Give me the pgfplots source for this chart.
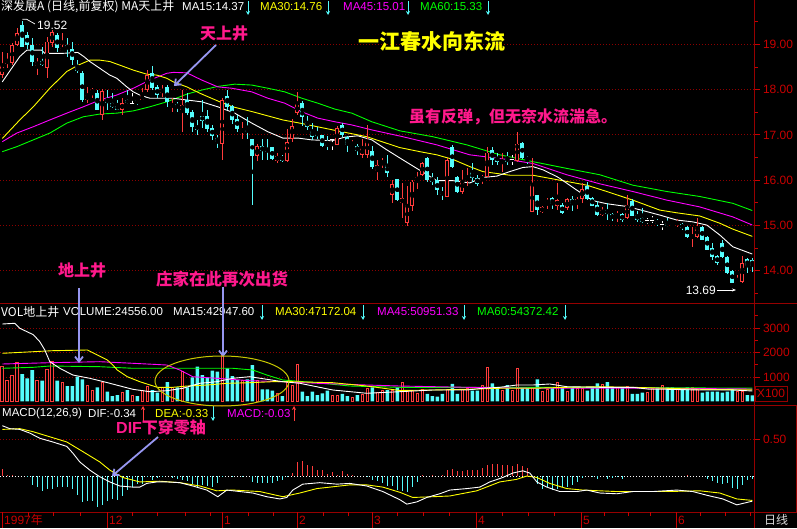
\documentclass[border=0pt]{standalone}
\usepackage{pgfplots}
\pgfplotsset{compat=1.18}
\usepackage{pgfplotstable}
\usepackage{fontspec}
\setmainfont{Liberation Sans}
\newfontfamily\cjk{Noto Sans CJK SC}
\usetikzlibrary{arrows.meta}
\definecolor{cred}{RGB}{255,60,60}
\definecolor{ccyan}{RGB}{84,252,252}
\definecolor{axred}{RGB}{200,0,0}
\definecolor{gridred}{RGB}{140,0,0}
\definecolor{framec}{RGB}{150,0,0}
\definecolor{pinkann}{RGB}{255,25,140}
\definecolor{lav}{RGB}{150,150,240}
\definecolor{cyel}{RGB}{255,255,0}
\definecolor{cmag}{RGB}{255,0,255}
\definecolor{cgrn}{RGB}{0,255,0}
\definecolor{ellc}{RGB}{200,200,0}

\pgfplotstableread{
i o h l c v
0 18.32 18.82 18.25 18.54 1420
1 18.57 18.80 18.47 18.65 877
2 18.58 19.02 18.54 18.98 1081
3 18.98 19.35 18.96 19.24 1584
4 19.43 19.52 18.95 18.95 1122
5 19.21 19.28 18.89 18.98 946
6 18.98 19.13 18.51 18.62 1285
7 18.52 18.69 18.32 18.62 877
8 18.64 18.95 18.51 18.54 849
9 18.47 19.17 18.25 19.06 1313
10 19.02 19.32 18.95 19.28 1625
11 19.21 19.24 18.84 18.91 849
12 18.86 19.24 18.84 18.91 767
13 18.98 19.13 18.73 18.91 632
14 18.89 19.06 18.54 18.65 632
15 18.51 18.65 18.36 18.40 1013
16 18.36 18.40 17.73 17.77 906
17 17.76 18.05 17.70 17.88 673
18 17.93 18.03 17.81 17.99 442
19 17.92 17.99 17.55 17.56 578
20 17.44 18.01 17.33 17.97 767
21 17.79 17.99 17.55 17.70 401
22 17.70 17.92 17.59 17.62 224
23 17.64 17.77 17.55 17.56 265
24 17.56 17.81 17.44 17.70 360
25 17.77 17.99 17.68 17.70 469
26 17.70 17.92 17.68 17.70 265
27 17.77 17.79 17.66 17.73 224
28 17.76 18.03 17.76 17.88 469
29 17.99 18.43 17.95 18.32 632
30 18.36 18.51 17.99 18.03 469
31 18.05 18.10 17.81 17.88 360
32 17.93 18.10 17.84 18.01 578
33 18.05 18.10 17.62 17.73 795
34 17.62 17.81 17.51 17.68 578
35 17.68 17.73 17.51 17.61 578
36 17.55 17.99 17.07 17.66 1217
37 17.78 17.92 17.44 17.48 578
38 17.51 17.55 17.07 17.18 986
39 17.20 17.33 17.00 17.11 1420
40 17.42 17.77 17.15 17.31 1081
41 17.42 17.55 17.07 17.12 986
42 17.15 17.22 16.89 16.98 1258
43 16.94 17.00 16.70 16.85 1217
44 16.81 17.81 16.45 17.77 1965
45 17.86 17.99 17.55 17.62 1353
46 17.64 17.66 17.25 17.33 1040
47 17.36 17.44 17.07 17.14 877
48 17.07 17.29 16.90 17.12 849
49 17.11 17.40 16.92 17.07 906
50 16.92 16.92 15.45 16.53 1489
51 16.53 16.80 16.43 16.75 877
52 16.75 16.92 16.45 16.65 496
53 16.66 16.90 16.45 16.65 496
54 16.73 16.73 16.45 16.46 442
55 16.43 16.61 16.37 16.53 333
56 16.52 16.56 16.41 16.43 224
57 16.43 17.12 16.41 16.85 795
58 16.92 17.34 16.85 17.20 673
59 17.48 17.95 17.44 17.68 1530
60 17.70 17.75 17.20 17.40 401
61 17.29 17.42 17.11 17.18 224
62 17.09 17.27 16.89 16.95 401
63 17.05 17.18 16.90 16.98 265
64 17.00 17.00 16.73 16.76 333
65 16.80 16.98 16.67 16.76 442
66 16.89 16.92 16.67 16.89 265
67 16.78 17.20 16.78 17.15 265
68 17.22 17.27 16.95 17.00 306
69 16.95 16.98 16.63 16.78 224
70 16.74 16.89 16.73 16.78 170
71 16.75 16.81 16.56 16.65 265
72 16.56 16.92 16.50 16.70 306
73 16.56 17.22 16.48 16.87 537
74 16.65 16.75 16.25 16.29 578
75 16.21 16.45 16.00 16.34 360
76 16.37 16.48 16.26 16.41 442
77 16.34 16.56 16.08 16.15 469
78 15.67 16.00 15.50 15.92 442
79 16.02 16.03 15.55 15.56 578
80 15.49 15.93 15.16 15.60 795
81 15.05 15.87 14.99 15.45 469
82 15.43 16.00 15.31 15.97 469
83 16.00 16.17 15.80 16.06 333
84 16.11 16.41 16.09 16.37 496
85 16.50 16.52 15.97 16.00 306
86 16.04 16.15 15.89 15.97 224
87 16.00 16.08 15.67 15.78 197
88 15.75 15.86 15.56 15.67 306
89 15.64 16.48 15.62 16.45 496
90 16.74 16.78 16.26 16.30 714
91 16.08 16.09 15.72 15.75 306
92 15.75 16.23 15.70 16.00 496
93 16.00 16.26 15.87 16.06 537
94 16.17 16.39 15.97 16.04 442
95 16.04 16.11 15.87 15.92 442
96 16.00 16.11 15.92 16.08 673
97 16.08 16.74 16.06 16.61 1394
98 16.67 16.74 16.34 16.45 741
99 16.52 16.61 16.34 16.41 537
100 16.39 16.61 16.19 16.43 442
101 16.48 16.63 16.34 16.41 673
102 16.45 16.56 16.34 16.45 469
103 16.43 17.07 16.41 16.81 1353
104 16.83 16.85 16.46 16.50 578
105 16.50 16.53 16.36 16.45 578
106 15.30 16.50 15.30 15.92 578
107 15.67 15.67 15.23 15.34 906
108 15.30 15.42 15.28 15.40 401
109 15.49 15.60 15.36 15.55 496
110 15.60 15.62 15.36 15.47 578
111 15.43 15.93 15.34 15.56 795
112 15.45 15.49 15.25 15.28 578
113 15.38 15.60 15.34 15.58 401
114 15.58 15.65 15.33 15.48 578
115 15.49 15.64 15.36 15.58 537
116 15.58 15.93 15.50 15.80 537
117 15.87 15.95 15.56 15.58 442
118 15.60 15.64 15.42 15.43 578
119 15.45 15.53 15.21 15.23 741
120 15.23 15.40 15.21 15.34 714
121 15.34 15.50 15.12 15.25 795
122 15.25 15.27 15.11 15.16 578
123 15.20 15.31 15.08 15.25 578
124 15.25 15.27 15.08 15.12 578
125 15.16 15.67 15.14 15.45 632
126 15.53 15.58 15.20 15.21 306
127 15.23 15.33 15.08 15.12 306
128 15.16 15.38 15.06 15.08 360
129 15.11 15.16 15.03 15.11 360
130 15.11 15.20 15.06 15.11 537
131 15.11 15.14 14.99 15.03 578
132 15.03 15.11 14.90 15.03 673
133 15.05 15.16 14.96 14.99 578
134 15.03 15.06 14.96 14.99 578
135 15.03 15.14 14.96 15.08 537
136 15.03 15.06 14.90 14.94 496
137 14.97 14.99 14.72 14.74 578
138 14.74 14.97 14.53 14.77 578
139 14.74 15.16 14.72 14.96 496
140 14.96 14.99 14.67 14.68 360
141 14.74 14.77 14.46 14.47 401
142 14.50 14.61 14.24 14.30 401
143 14.33 14.35 14.13 14.17 401
144 14.62 14.69 14.28 14.30 360
145 14.31 14.33 13.93 13.96 401
146 14.00 14.02 13.72 13.74 496
147 13.70 13.91 13.69 13.75 401
148 13.76 14.33 13.72 14.18 401
149 14.25 14.28 13.96 14.11 265
150 14.24 14.28 13.98 14.11 246
}\candles

\pgfplotstableread{
i m
0 18.17
3.5 18.73
4.9 18.87
7.9 18.87
8.5 18.80
12.1 18.80
15.1 18.82
16.3 18.73
17.5 18.62
19.5 18.47
21.5 18.32
22.9 18.25
24.9 18.06
26.2 17.95
27.5 17.88
28.9 17.83
29.5 17.81
34.1 17.81
36.9 17.77
39.9 17.73
43.1 17.62
46.5 17.48
49.9 17.26
53.1 17.07
56.1 16.93
59.1 16.93
61.9 16.89
65.9 16.87
68.5 16.95
71.1 16.98
73.9 16.89
76.9 16.67
80.1 16.45
82.9 16.26
86.9 15.99
90.1 15.99
93.5 15.94
96.1 16.06
98.9 16.09
101.5 16.19
104.1 16.28
106.1 16.30
108.1 16.23
110.9 16.08
111.5 16.04
114.9 15.78
118.1 15.55
120.9 15.48
124.9 15.42
128.1 15.33
131.5 15.23
134.9 15.12
138.1 15.08
140.9 15.01
143.5 14.79
146.1 14.53
150 14.37
}\maXV

\pgfplotstableread{
i m
0 16.92
3.5 17.33
6.2 17.62
9.5 18.03
12.9 18.40
15.2 18.54
17.5 18.65
19.5 18.65
21.5 18.62
23.5 18.54
26.2 18.43
28.9 18.34
30.9 18.32
32.9 18.25
34.2 18.17
36.9 18.06
39.5 17.92
43.5 17.73
46.1 17.62
50.1 17.51
56.1 17.33
59.5 17.26
66.1 17.11
72.9 16.96
79.5 16.72
83.5 16.63
86.9 16.56
90.1 16.46
93.5 16.30
96.1 16.19
101.5 16.11
106.1 16.11
111.5 16.00
116.9 15.89
120.9 15.75
126.1 15.56
131.5 15.34
134.9 15.28
139.5 15.21
143.5 15.05
146.1 14.92
150 14.76
}\maXXX

\pgfplotstableread{
i m
0 16.85
2.9 17.04
6.2 17.18
9.5 17.33
12.9 17.48
16.2 17.62
19.5 17.77
22.9 17.88
26.2 18.03
29.5 18.21
32.9 18.36
34.2 18.38
36.9 18.37
39.9 18.21
43.1 18.06
45.9 18.03
49.9 17.95
53.1 17.81
56.5 17.70
59.9 17.51
63.1 17.37
66.5 17.29
69.9 17.22
73.9 17.11
80.1 16.96
86.9 16.78
93.5 16.56
101.5 16.45
106.1 16.37
112.9 16.12
119.5 15.92
126.1 15.75
132.9 15.56
139.5 15.41
146.1 15.19
150 15.01
}\maXLV

\pgfplotstableread{
i m
0 16.63
2.9 16.74
6.2 16.89
9.5 17.04
12.9 17.26
16.2 17.40
19.5 17.46
22.9 17.48
26.2 17.53
29.5 17.62
32.9 17.73
35.5 17.84
36.9 17.90
39.9 17.99
43.1 18.07
46.5 18.12
49.9 18.10
53.1 18.03
56.5 17.95
59.9 17.81
63.1 17.70
66.5 17.57
69.9 17.48
73.9 17.29
79.5 17.09
86.1 16.96
92.9 16.78
99.5 16.56
106.1 16.41
112.9 16.26
119.5 16.12
126.1 15.89
132.9 15.75
139.5 15.64
146.1 15.49
150 15.33
}\maLX

\pgfplotstableread{
i m
0 3162
2.5 3191
3.5 2987
6.2 2726
7.5 2440
8.5 2101
9.5 1624
11.5 1355
14.1 1081
17.5 947
21.5 743
26.1 498
29.5 400
32.9 441
36.1 539
39.5 743
42.9 808
46.1 947
49.5 1012
52.9 906
56.1 808
59.5 743
66.1 469
72.9 335
79.5 400
86.1 469
92.9 469
96.1 539
99.5 579
102.9 673
106.1 673
109.5 714
112.9 604
119.5 579
126.1 579
129.5 498
132.9 498
139.5 469
146.1 469
150 429
}\vmaXV

\pgfplotstableread{
i m
0 1967
6.2 2032
10.1 2073
17 2101
19 1897
21 1693
22.1 1489
23 1285
25 1012
27.5 808
31 579
34.1 579
37 632
41 673
45 743
49.5 767
54.1 808
58.1 808
66.1 767
72.9 632
79.5 449
86.1 469
92.9 498
99.5 539
106.1 539
112.9 579
119.5 604
126.1 579
132.9 539
139.5 498
150 472
}\vmaXXX

\pgfplotstableread{
i m
0 1530
9.5 1583
19.5 1624
26.1 1559
32.9 1489
35.5 1285
38.1 1012
42.9 947
49.5 849
56.1 808
62.9 743
72.9 673
79.5 632
92.9 579
106.1 539
119.5 539
132.9 539
150 510
}\vmaXLV

\pgfplotstableread{
i m
0 1355
6.2 1395
9.5 1448
19.5 1420
26.1 1355
39.5 1355
46.1 1355
50.1 1285
52.9 1081
56.1 877
62.9 767
69.5 632
79.5 579
112.9 579
150 544
}\vmaLX

\pgfplotstableread{
i m
0 0.68
1.5 0.64
3.5 0.63
5.5 0.58
7.5 0.51
10.1 0.46
12.9 0.40
14.1 0.31
15.5 0.19
17.5 0.08
19.5 -0.01
21.5 -0.08
23.5 -0.135
26.1 -0.15
27.5 -0.15
28.9 -0.10
30.9 -0.08
32.9 -0.08
35.5 -0.09
38.1 -0.135
40.9 -0.19
43.1 -0.28
44.9 -0.19
47.5 -0.21
50.1 -0.23
52.9 -0.28
55.5 -0.31
56.9 -0.29
58.1 -0.19
60.1 -0.11
63.5 -0.09
66.9 -0.11
69.5 -0.10
72.9 -0.135
76.1 -0.21
79.5 -0.32
80.9 -0.38
82.9 -0.35
84.9 -0.29
87.5 -0.24
89.5 -0.19
92.9 -0.17
95.5 -0.15
97.5 -0.08
100.1 -0.02
102.1 0.04
104.1 0.07
105.5 0.04
106.9 -0.08
108.9 -0.15
111.5 -0.21
114.9 -0.21
116.9 -0.19
119.5 -0.23
122.9 -0.24
126.1 -0.21
130.1 -0.21
134.9 -0.19
138.1 -0.21
140.9 -0.26
144.1 -0.31
146.9 -0.39
150 -0.34
}\dif

\pgfplotstableread{
i m
0 0.63
3.5 0.64
6.1 0.60
9.5 0.53
12.9 0.46
16.1 0.33
19.5 0.19
21.5 0.08
24.1 -0.02
27.5 -0.08
31.5 -0.07
35.5 -0.09
39.5 -0.135
42.9 -0.20
46.1 -0.19
51.5 -0.21
56.1 -0.28
59.5 -0.23
62.9 -0.17
69.5 -0.12
72.9 -0.12
76.1 -0.15
79.5 -0.22
82.1 -0.29
86.1 -0.28
89.5 -0.27
94.9 -0.20
99.5 -0.08
102.9 -0.045
104.9 0.0
106.9 -0.02
109.5 -0.10
112.9 -0.17
116.1 -0.19
122.9 -0.21
132.9 -0.21
139.5 -0.20
143.5 -0.23
146.9 -0.31
150 -0.33
}\dea

\pgfplotstableread{
i m
0 0.095
1 0.02
2 0.02
5 -0.02
6 -0.117
7 -0.149
8 -0.207
9 -0.176
10 -0.176
11 -0.149
12 -0.149
13 -0.149
14 -0.176
15 -0.252
16 -0.356
17 -0.342
18 -0.342
19 -0.419
20 -0.387
21 -0.342
22 -0.31
23 -0.32
24 -0.266
25 -0.194
26 -0.149
27 -0.104
28 -0.104
29 -0.02
30 -0.059
31 -0.03
32 -0.02
34 -0.03
35 -0.04
36 -0.05
37 -0.07
38 -0.104
39 -0.149
40 -0.117
41 -0.13
42 -0.149
43 -0.095
44 -0.01
46 -0.01
48 -0.01
50 -0.086
51 -0.095
52 -0.095
53 -0.095
54 -0.095
55 -0.072
56 -0.05
57 -0.01
58 0.04
59 0.185
60 0.2
61 0.153
62 0.13
63 0.077
64 0.086
65 0.032
66 0.05
67 0.018
68 0.063
69 0.032
70 0.01
73 -0.01
74 -0.05
75 -0.072
76 -0.095
77 -0.13
78 -0.14
79 -0.194
80 -0.207
81 -0.22
82 -0.149
83 -0.086
84 0.01
86 0.01
88 0.01
89 0.086
90 0.095
91 0.063
92 0.063
93 0.086
94 0.086
95 0.077
96 0.108
97 0.153
98 0.167
99 0.167
100 0.153
101 0.153
102 0.14
103 0.167
104 0.14
105 0.108
107 -0.104
108 -0.176
109 -0.149
110 -0.194
111 -0.176
112 -0.149
113 -0.149
114 -0.117
115 -0.086
116 -0.027
118 -0.02
119 -0.04
121 -0.04
122 -0.027
123 -0.02
124 -0.04
137 0.01
141 -0.04
142 -0.072
143 -0.095
144 -0.104
145 -0.095
146 -0.162
147 -0.176
148 -0.117
149 -0.059
150 -0.04
}\macd

\pgfplotsset{
  panel/.style={
    scale only axis, width=754.5pt, anchor=south west,
    xmin=-0.46, xmax=150.44,
    axis line style={draw=none},
    xtick=\empty,
    ytick pos=right, yticklabel pos=right,
    tick align=outside,
    major tick length=5pt, minor tick length=3pt,
    every tick/.style={draw=axred, line width=0.8pt},
    ymajorgrids,
    major grid style={draw=gridred, line width=0.8pt, dash pattern=on 0.9pt off 2.1pt},
    yticklabel style={text=axred, font=\fontsize{12}{12}\selectfont,
      /pgf/number format/assume math mode=true},
  },
  ebar/.style 2 args={only marks, mark=none,
    error bars/.cd, y dir=both, y explicit, error mark=none,
    error bar style={draw=#1, line width=#2}},
}

\begin{document}
\begin{tikzpicture}
\fill[black] (0pt,0pt) rectangle (797pt,528pt);

% ---------------- price panel
\begin{axis}[panel, at={(0pt,225pt)}, height=303pt,
  ymin=13.289, ymax=19.978,
  ytick={14,15,16,17,18,19}, minor ytick={13.5,14.5,15.5,16.5,17.5,18.5,19.5},
  yticklabel style={/pgf/number format/fixed, /pgf/number format/fixed zerofill,
    /pgf/number format/precision=2}]
\addplot[cgrn, line width=0.9pt] table[x=i,y=m]{\maLX};
\addplot[cmag, line width=0.9pt] table[x=i,y=m]{\maXLV};
\addplot[cyel, line width=0.9pt] table[x=i,y=m]{\maXXX};
\addplot[white, line width=0.9pt] table[x=i,y=m]{\maXV};
\addplot[ebar={cred}{1pt}] table[x=i,
  y expr={\thisrow{c}>\thisrow{o} ? (\thisrow{h}+\thisrow{l})/2 : nan},
  y error expr={(\thisrow{h}-\thisrow{l})/2}]{\candles};
\addplot[ebar={ccyan}{1pt}] table[x=i,
  y expr={\thisrow{c}<\thisrow{o} ? (\thisrow{h}+\thisrow{l})/2 : nan},
  y error expr={(\thisrow{h}-\thisrow{l})/2}]{\candles};
\addplot[ebar={white}{1pt}] table[x=i,
  y expr={\thisrow{c}==\thisrow{o} ? (\thisrow{h}+\thisrow{l})/2 : nan},
  y error expr={(\thisrow{h}-\thisrow{l})/2}]{\candles};
\addplot[ebar={cred}{4pt}] table[x=i,
  y expr={\thisrow{c}>\thisrow{o} ? (\thisrow{o}+\thisrow{c})/2 : nan},
  y error expr={(\thisrow{c}-\thisrow{o})/2}]{\candles};
\addplot[ebar={black}{2.2pt}] table[x=i,
  y expr={\thisrow{c}>\thisrow{o} ? (\thisrow{o}+\thisrow{c})/2 : nan},
  y error expr={max((\thisrow{c}-\thisrow{o})/2-0.02,0)}]{\candles};
\addplot[ebar={ccyan}{4pt}] table[x=i,
  y expr={\thisrow{c}<\thisrow{o} ? (\thisrow{o}+\thisrow{c})/2 : nan},
  y error expr={(\thisrow{o}-\thisrow{c})/2}]{\candles};
\addplot[only marks, mark=-, mark size=2pt, mark options={draw=white, line width=1pt}] table[x=i,
  y expr={\thisrow{c}==\thisrow{o} ? \thisrow{c} : nan}]{\candles};
\end{axis}

% ---------------- volume panel
\begin{axis}[panel, at={(0pt,123pt)}, height=102pt,
  ymin=-143, ymax=4019,
  ytick={1000,2000,3000}, minor ytick={500,1500,2500,3500},
  yticklabel style={/pgf/number format/set thousands separator={}}]
\addplot[ybar, bar width=3.6pt, bar shift=0pt, draw=none, fill=ccyan] table[x=i,
  y expr={\thisrow{c}<\thisrow{o} ? \thisrow{v} : nan}]{\candles};
\addplot[ybar, bar width=2.8pt, bar shift=0pt, draw=cred, fill=black, line width=0.8pt] table[x=i,
  y expr={\thisrow{c}>=\thisrow{o} ? \thisrow{v} : nan}]{\candles};
\addplot[cgrn, line width=0.9pt] table[x=i,y=m]{\vmaLX};
\addplot[cmag, line width=0.9pt] table[x=i,y=m]{\vmaXLV};
\addplot[cyel, line width=0.9pt] table[x=i,y=m]{\vmaXXX};
\addplot[white, line width=0.9pt] table[x=i,y=m]{\vmaXV};
\end{axis}

% ---------------- MACD panel
\begin{axis}[panel, at={(0pt,16pt)}, height=107pt,
  ymin=-0.4865, ymax=0.9595,
  ytick={0.5},
  yticklabel style={/pgf/number format/fixed, /pgf/number format/fixed zerofill,
    /pgf/number format/precision=2},
  extra y ticks={0}, extra y tick labels={},
  extra y tick style={major grid style={draw=white, line width=0.8pt, dash pattern=on 0.9pt off 2.1pt}, major tick length=0pt}]
\addplot[ycomb, draw=cred, line width=1pt] table[x=i,
  y expr={\thisrow{m}>0 ? \thisrow{m} : nan}]{\macd};
\addplot[ycomb, draw=ccyan, line width=1pt] table[x=i,
  y expr={\thisrow{m}<0 ? \thisrow{m} : nan}]{\macd};
\addplot[cyel, line width=0.9pt] table[x=i,y=m]{\dea};
\addplot[white, line width=0.9pt] table[x=i,y=m]{\dif};
\end{axis}

\begin{scope}[x=1pt,y=1pt]
% ---------------- frame lines
\draw[framec, line width=1pt] (0,225) -- (797,225);
\draw[framec, line width=1pt] (0,123) -- (797,123);
\draw[framec, line width=1pt] (0,16) -- (797,16);
\draw[framec, line width=1pt] (754.5,0) -- (754.5,528);
\draw[framec, line width=1pt] (796.5,16) -- (796.5,123);
\draw[framec, line width=1pt] (755,127) rectangle (787,142);
\node[text=axred, font=\fontsize{12}{12}\selectfont, inner sep=0] at (771,134.5) {X100};
\node[text=white!85!black, font=\cjk\fontsize{12}{12}\selectfont, inner sep=0] at (776,8) {日线};

% ---------------- date row
\foreach \xx in {2,107,222,297,372,476,581,676} \draw[axred, line width=0.8pt] (\xx,0) -- (\xx,16);
\foreach \xx in {28,53,80,132,157,185,210,248,273,323,348,397,423,449,502,528,554,604,628,650,700,725,750}
  \draw[axred, line width=0.8pt] (\xx,16) -- (\xx,12);
\begin{scope}[every node/.style={text=axred, font=\fontsize{12}{12}\selectfont, anchor=west, inner sep=0}]
\node at (4,8) {1997{\cjk 年}};
\node at (109,8) {12};
\node at (224,8) {1};
\node at (299,8) {2};
\node at (374,8) {3};
\node at (478,8) {4};
\node at (583,8) {5};
\node at (678,8) {6};
\end{scope}

% ---------------- title rows
\begin{scope}[every node/.style={font=\fontsize{11.5}{12}\selectfont, anchor=west, inner sep=0}]
\node[text=white, font=\cjk\fontsize{12}{12}\selectfont] at (1,521) {深发展A (日线,前复权) MA天上井};
\node[text=white] at (182,521) {MA15:14.37};
\node[text=cyel] at (260,521) {MA30:14.76};
\node[text=cmag] at (343,521) {MA45:15.01};
\node[text=cgrn] at (420,521) {MA60:15.33};
\node[text=white, font=\cjk\fontsize{12}{12}\selectfont] at (1,216) {VOL地上井};
\node[text=white] at (63,216) {VOLUME:24556.00};
\node[text=white] at (173,216) {MA15:42947.60};
\node[text=cyel] at (275,216) {MA30:47172.04};
\node[text=cmag] at (377,216) {MA45:50951.33};
\node[text=cgrn] at (477,216) {MA60:54372.42};
\node[text=white] at (2,114) {MACD(12,26,9)};
\node[text=white] at (88,114) {DIF:-0.34};
\node[text=cyel] at (155,114) {DEA:-0.33};
\node[text=cmag] at (227,114) {MACD:-0.03};
\end{scope}
\foreach \xx in {248,328,408,488} \draw[ccyan, line width=0.8pt, -{Stealth[length=4pt,width=4pt]}] (\xx,527) -- (\xx,513);
\foreach \xx in {262,363,464,565} \draw[ccyan, line width=0.8pt, -{Stealth[length=4pt,width=4pt]}] (\xx,223) -- (\xx,208);
\draw[cred, line width=0.8pt, -{Stealth[length=4pt,width=4pt]}] (143,107) -- (143,122);
\draw[ccyan, line width=0.8pt, -{Stealth[length=4pt,width=4pt]}] (213,122) -- (213,107);
\draw[cred, line width=0.8pt, -{Stealth[length=4pt,width=4pt]}] (294,107) -- (294,122);

% ---------------- annotations
\draw[white, line width=0.7pt] (22.3,508.7) -- (26.7,508.7) -- (35,504);
\node[text=white, font=\fontsize{12}{12}\selectfont, anchor=west, inner sep=0] at (37,503) {19.52};
\node[text=white, font=\fontsize{12}{12}\selectfont, anchor=east, inner sep=0] at (716,238) {13.69};
\draw[white, line width=0.7pt, -{Stealth[length=4pt,width=3pt]}] (717,238) -- (736,238);

\node[text=pinkann, font=\cjk\bfseries\fontsize{16}{16}\selectfont] at (224,495) {天上井};
\draw[lav, line width=1.8pt, -{Straight Barb[length=5pt,width=8pt]}] (216,483) -- (174,442);
\node[text=cyel, font=\cjk\bfseries\fontsize{21}{21}\selectfont] at (432,487) {一江春水向东流};
\node[text=pinkann, font=\cjk\bfseries\fontsize{16}{16}\selectfont] at (513,411) {虽有反弹，但无奈水流湍急。};
\node[text=pinkann, font=\cjk\bfseries\fontsize{16}{16}\selectfont] at (82,258) {地上井};
\node[text=pinkann, font=\cjk\bfseries\fontsize{16.5}{17}\selectfont] at (222,249) {庄家在此再次出货};
\draw[lav, line width=1.8pt, -{Straight Barb[length=5pt,width=8pt]}] (79,240) -- (79,165);
\draw[lav, line width=1.8pt, -{Straight Barb[length=5pt,width=8pt]}] (223,241) -- (223,171);
\draw[ellc, line width=1pt] (222,147) ellipse [x radius=67, y radius=25];
\node[text=pinkann, anchor=west, inner sep=0] at (116,101) {\fontsize{16}{16}\selectfont\bfseries DIF{\cjk 下穿零轴}};
\draw[lav, line width=1.8pt, -{Straight Barb[length=5pt,width=8pt]}] (158,91) -- (112,52);
\end{scope}

\pgfresetboundingbox
\path[use as bounding box] (0pt,0pt) rectangle (797pt,528pt);
\end{tikzpicture}
\end{document}
